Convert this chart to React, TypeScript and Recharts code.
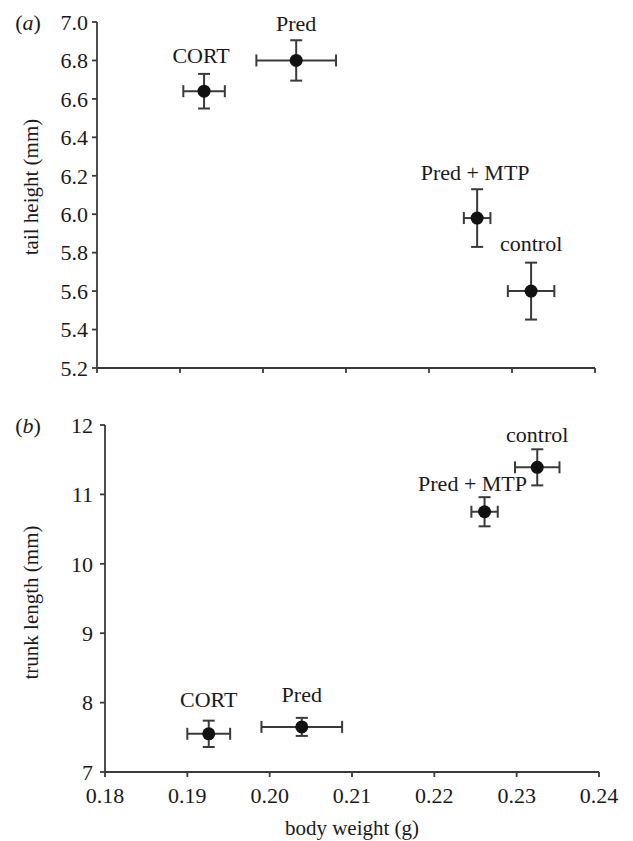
import React from 'react';
import { ScatterChart, Scatter, XAxis, YAxis, ErrorBar } from 'recharts';

// groups, in the same order for every array below
const groups = ['CORT', 'Pred', 'Pred + MTP', 'control'];

// panel (a): tail height vs body weight
const tailWeight = [0.1929, 0.204, 0.2258, 0.2323];
const tailWeightErr = [0.0025, 0.0048, 0.0016, 0.0028];
const tailHeight = [6.64, 6.8, 5.98, 5.6];
const tailHeightErr = [0.09, 0.105, 0.15, 0.148];

// panel (b): trunk length vs body weight
const trunkWeight = [0.1926, 0.2039, 0.2261, 0.2325];
const trunkWeightErr = [0.0026, 0.0049, 0.0016, 0.0027];
const trunkLength = [7.55, 7.65, 10.75, 11.39];
const trunkLengthErr = [0.19, 0.13, 0.21, 0.26];

const weightTicks = [0.18, 0.19, 0.2, 0.21, 0.22, 0.23, 0.24];
const tailTicks = [5.2, 5.4, 5.6, 5.8, 6.0, 6.2, 6.4, 6.6, 6.8, 7.0];
const trunkTicks = [7, 8, 9, 10, 11, 12];

const tailData = groups.map((name, i) => ({
  name,
  x: tailWeight[i],
  y: tailHeight[i],
  xErr: tailWeightErr[i],
  yErr: tailHeightErr[i],
}));

const trunkData = groups.map((name, i) => ({
  name,
  x: trunkWeight[i],
  y: trunkLength[i],
  xErr: trunkWeightErr[i],
  yErr: trunkLengthErr[i],
}));

// where each group name sits relative to its point (px)
const tailLabelPos: Record<string, [number, number]> = {
  CORT: [-3, -36],
  Pred: [0, -37],
  'Pred + MTP': [-2, -46],
  control: [0, -48],
};
const trunkLabelPos: Record<string, [number, number]> = {
  CORT: [0, -34],
  Pred: [0, -32],
  'Pred + MTP': [-12, -28],
  control: [0, -33],
};

const FONT = '"Liberation Serif", "DejaVu Serif", serif';
const INK = '#1a1a1a';
const AXIS = '#3a3a3a';

const makeShape = (pos: Record<string, [number, number]>) => (props: any) => {
  const { cx, cy, payload } = props;
  const [dx, dy] = pos[payload.name] || [0, -30];
  return (
    <g>
      <circle cx={cx} cy={cy} r={6.5} fill="#111" />
      <text
        x={cx + dx}
        y={cy + dy}
        textAnchor="middle"
        dominantBaseline="central"
        fontFamily={FONT}
        fontSize={22}
        fill={INK}
      >
        {payload.name}
      </text>
    </g>
  );
};

const yTitle = (title: string, panel: string, shift: number) => (props: any) => {
  const vb = props.viewBox;
  const cy = vb.y + vb.height / 2 + shift;
  return (
    <g>
      <text
        x={31}
        y={cy}
        transform={`rotate(-90, 31, ${cy})`}
        textAnchor="middle"
        dominantBaseline="central"
        fontFamily={FONT}
        fontSize={21}
        fill={INK}
      >
        {title}
      </text>
      <text
        x={28}
        y={vb.y}
        textAnchor="middle"
        dominantBaseline="central"
        fontFamily={FONT}
        fontSize={22}
        fill={INK}
      >
        (<tspan fontStyle="italic">{panel}</tspan>)
      </text>
    </g>
  );
};

const xTitle = (props: any) => {
  const vb = props.viewBox;
  return (
    <text
      x={vb.x + vb.width / 2}
      y={vb.y + 56}
      textAnchor="middle"
      dominantBaseline="central"
      fontFamily={FONT}
      fontSize={21}
      fill={INK}
    >
      body weight (g)
    </text>
  );
};

const tickStyle = { fill: INK, fontSize: 22, fontFamily: FONT };
const axisLine = { stroke: AXIS, strokeWidth: 1.8 };
const tickLine = { stroke: AXIS, strokeWidth: 1.8 };

export default function App() {
  return (
    <div
      style={{
        position: 'absolute',
        left: 0,
        top: 0,
        width: 633,
        height: 841,
        background: '#fff',
        fontFamily: FONT,
      }}
    >
      <ScatterChart width={633} height={400} margin={{ top: 22, right: 38, bottom: 2, left: 0 }}>
        <XAxis
          type="number"
          dataKey="x"
          domain={[0.18, 0.24]}
          ticks={weightTicks}
          tickFormatter={() => ''}
          height={30}
          tickSize={5}
          axisLine={axisLine}
          tickLine={tickLine}
          tick={tickStyle}
        />
        <YAxis
          type="number"
          dataKey="y"
          domain={[5.2, 7.0]}
          ticks={tailTicks}
          tickFormatter={(v: number) => v.toFixed(1)}
          width={97}
          tickSize={5}
          tickMargin={4}
          axisLine={axisLine}
          tickLine={tickLine}
          tick={tickStyle}
          label={{ content: yTitle('tail height (mm)', 'a', -8) }}
        />
        <Scatter data={tailData} shape={makeShape(tailLabelPos)} isAnimationActive={false}>
          <ErrorBar dataKey="xErr" direction="x" width={6} stroke={AXIS} strokeWidth={2} isAnimationActive={false} />
          <ErrorBar dataKey="yErr" direction="y" width={6} stroke={AXIS} strokeWidth={2} isAnimationActive={false} />
        </Scatter>
      </ScatterChart>
      <ScatterChart width={633} height={441} margin={{ top: 25, right: 34, bottom: 0, left: 0 }}>
        <XAxis
          type="number"
          dataKey="x"
          domain={[0.18, 0.24]}
          ticks={weightTicks}
          tickFormatter={(v: number) => v.toFixed(2)}
          height={69}
          tickSize={5}
          tickMargin={10}
          axisLine={axisLine}
          tickLine={tickLine}
          tick={tickStyle}
          label={{ content: xTitle }}
        />
        <YAxis
          type="number"
          dataKey="y"
          domain={[7, 12]}
          ticks={trunkTicks}
          width={105}
          tickSize={5}
          tickMargin={7}
          axisLine={axisLine}
          tickLine={tickLine}
          tick={tickStyle}
          label={{ content: yTitle('trunk length (mm)', 'b', 4) }}
        />
        <Scatter data={trunkData} shape={makeShape(trunkLabelPos)} isAnimationActive={false}>
          <ErrorBar dataKey="xErr" direction="x" width={6} stroke={AXIS} strokeWidth={2} isAnimationActive={false} />
          <ErrorBar dataKey="yErr" direction="y" width={6} stroke={AXIS} strokeWidth={2} isAnimationActive={false} />
        </Scatter>
      </ScatterChart>
    </div>
  );
}
